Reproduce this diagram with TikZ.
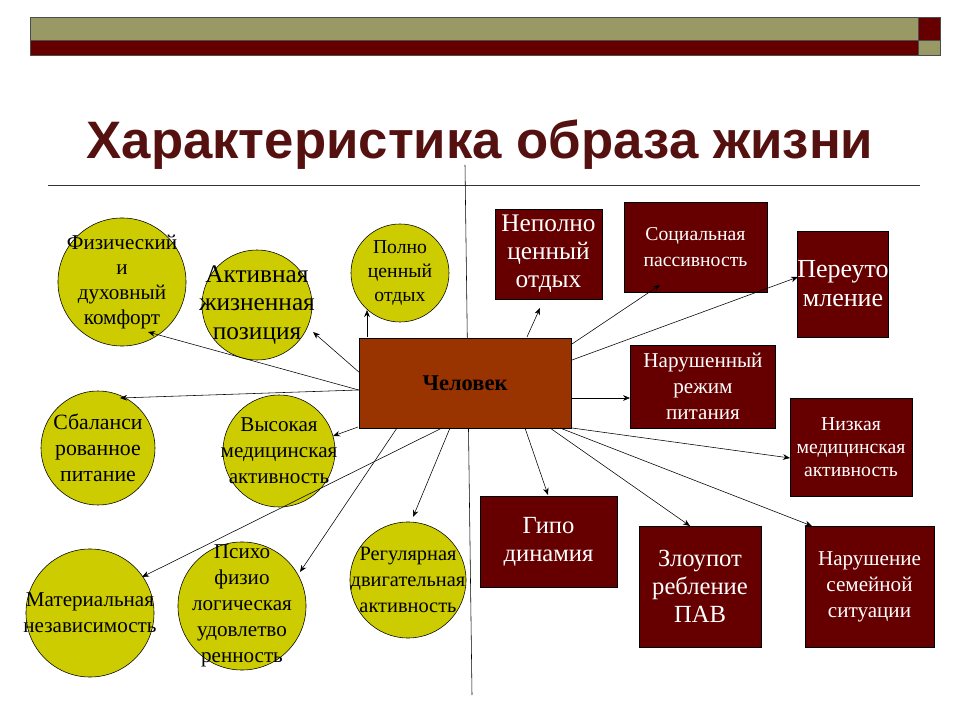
\documentclass[tikz,border=0pt]{standalone}
\usepackage{fontspec}
\setmainfont{Liberation Serif}
\newfontfamily\serifru{Liberation Serif}
\newfontfamily\titlefont{Liberation Sans}
\usetikzlibrary{arrows.meta}
\definecolor{olivebar}{HTML}{999966}
\definecolor{darkred}{HTML}{660000}
\definecolor{brownbox}{HTML}{993300}
\definecolor{yellowc}{HTML}{CCCC00}
\definecolor{titlered}{HTML}{551010}
\newcommand{\fs}[2]{\serifru\fontsize{#1}{#2}\selectfont}

\begin{document}
\begin{tikzpicture}[
            x=0.025cm, y=-0.025cm,
            good/.style={circle, draw, fill=yellowc, inner sep=0pt},
            goodtext/.style={align=center, text=black},
            bad/.style={rectangle, draw, fill=darkred, inner sep=0pt, align=center, text=white},
            link/.style={-{Stealth[length=5pt,width=4pt]}, thin}
        ]
        \useasboundingbox (0,0) rectangle (960,720);

        % Header bars
        \filldraw[fill=olivebar, draw=black!70] (30,17) rectangle (918,40);
        \filldraw[fill=darkred, draw=black!70] (30,40) rectangle (918,55);
        \filldraw[fill=darkred, draw=black!70] (918,17) rectangle (940,40);
        \filldraw[fill=olivebar, draw=black!70] (918,40) rectangle (940,55);
        \node[text=titlered, font=\titlefont\bfseries\fontsize{37.5}{44}\selectfont] (title) at (480,145) {Характеристика образа жизни};
        \draw[black!80] (48,185) -- (920,185);
        \draw (465,165) -- (472,695);

        % Centre
        \node[rectangle, draw, fill=brownbox, minimum width=5.3cm, minimum height=2.25cm, font=\fs{16}{19}\bfseries] (man) at (465,383) {Человек};

        % Positive factors
        \node[good, minimum size=3.2cm, label={[goodtext, font=\fs{15}{18}]center:Физический\\и\\духовный\\комфорт}] (comfort) at (122,282) {};
        \node[good, minimum size=2.75cm, label={[goodtext, font=\fs{18}{20.5}]center:Активная\\жизненная\\позиция}] (position) at (257,305) {};
        \node[good, minimum size=2.45cm, label={[goodtext, font=\fs{14}{17}]center:Полно\\ценный\\ отдых}] (rest) at (400,273) {};
        \node[good, minimum size=2.85cm, label={[goodtext, font=\fs{15.5}{18.5}]center:Сбаланси\\рованное\\ питание}] (food) at (98,448) {};
        \node[good, minimum size=2.8cm, label={[goodtext, font=\fs{15}{18.5}]center:Высокая\\медицинская\\активность}] (medic) at (279,451) {};
        \node[good, minimum size=3.2cm, label={[goodtext, font=\fs{15}{18.5}]center:Материальная\\независимость}] (wealth) at (90,613) {};
        \node[good, minimum size=3.2cm, label={[goodtext, font=\fs{15}{18.5}]center:Психо\\физио\\логическая\\удовлетво\\ренность}] (psycho) at (242,606) {};
        \node[good, minimum size=2.9cm, label={[goodtext, font=\fs{14.5}{18.5}]center:Регулярная\\двигательная\\активность}] (motion) at (408,580) {};

        % Negative factors
        \node[bad, minimum width=2.68cm, minimum height=2.25cm, font=\fs{18}{20}] (badrest) at (548.5,254) {Неполно\\ценный\\ отдых};
        \node[bad, minimum width=3.58cm, minimum height=2.25cm, font=\fs{14}{18.5}] (passive) at (695.5,247) {Социальная\\ пассивность};
        \node[bad, minimum width=2.25cm, minimum height=2.65cm, font=\fs{18.5}{20.5}] (tired) at (843,284) {Переуто\\мление};
        \node[bad, minimum width=3.63cm, minimum height=2.08cm, font=\fs{15}{18.5}] (diet) at (703,386.5) {Нарушенный\\режим\\ питания};
        \node[bad, minimum width=3.05cm, minimum height=2.45cm, font=\fs{14}{16.5}] (lowmed) at (851,447) {Низкая\\медицинская\\активность};
        \node[bad, minimum width=3.43cm, minimum height=2.28cm, font=\fs{17.5}{20}] (hypo) at (548.5,541.5) {Гипо\\динамия};
        \node[bad, minimum width=3.05cm, minimum height=3.03cm, font=\fs{17.5}{20}] (abuse) at (700,586.5) {Злоупот\\ребление\\ ПАВ};
        \node[bad, minimum width=3.23cm, minimum height=3.03cm, font=\fs{15}{18.5}] (family) at (869.5,586.5) {Нарушение\\семейной\\ ситуации};

        % Links
        \coordinate (e1) at (148,332);
        \coordinate (e2) at (313,332);
        \coordinate (e3) at (367,310);
        \coordinate (e4) at (120,398);
        \coordinate (e5) at (333,436);
        \coordinate (e6) at (142,577);
        \coordinate (e7) at (300,572);
        \coordinate (e8) at (413,517);
        \draw[link] (man.west |- 0,390) -- (e1);
        \draw[link] (360,373) -- (e2);
        \draw[link] (367,337) -- (e3);
        \draw[link] (man.west |- 0,390) -- (e4);
        \draw[link] (358,427) -- (e5);
        \draw[link] (442,428) -- (e6);
        \draw[link] (397,428) -- (e7);
        \draw[link] (450,428) -- (e8);

        \coordinate (f1) at (540,308);
        \coordinate (f2) at (660,285);
        \coordinate (f3) at (798,277);
        \coordinate (f4) at (790,458);
        \coordinate (f5) at (548,495);
        \coordinate (f6) at (690,526);
        \coordinate (f7) at (812,526);
        \draw[link] (527,337) -- (f1);
        \draw[link] (572,344) -- (f2);
        \draw[link] (572,360) -- (f3);
        \draw[link] (man.east |- 0,398) -- (diet.west |- 0,398);
        \draw[link] (572,428) -- (f4);
        \draw[link] (525,428) -- (f5);
        \draw[link] (550,428) -- (f6);
        \draw[link] (560,428) -- (f7);
    \end{tikzpicture}
\end{document}
